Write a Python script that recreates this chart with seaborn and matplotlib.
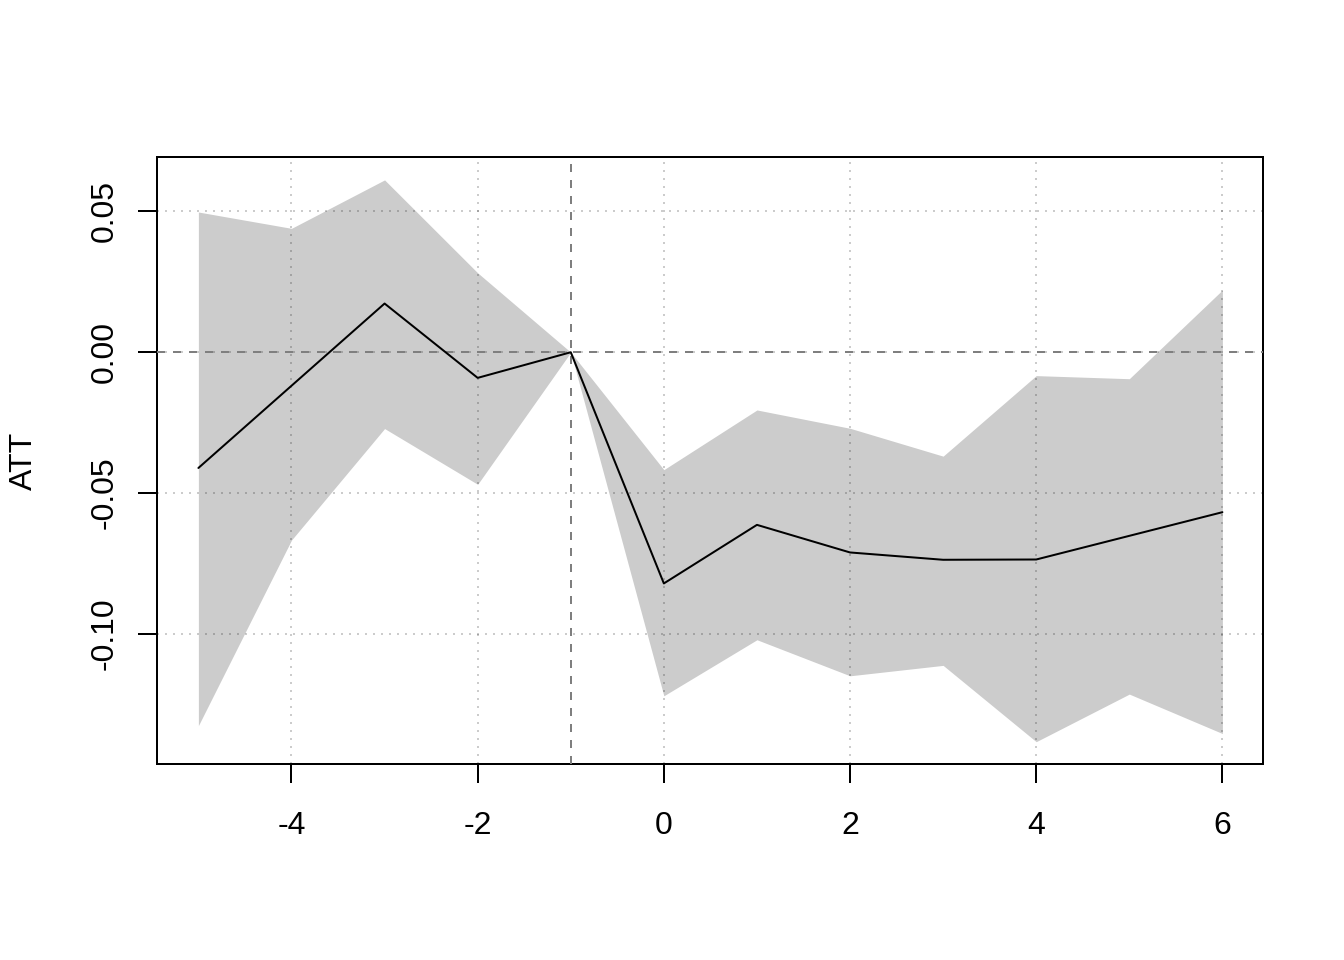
import numpy as np
import pandas as pd
import matplotlib
matplotlib.use("Agg")
import matplotlib.pyplot as plt
import seaborn as sns

# event time and ATT estimates
event_time = [-5, -4, -3, -2, -1, 0, 1, 2, 3, 4, 5, 6]
att = [-0.0411, -0.0119, 0.0173, -0.0091, 0.0, -0.0821, -0.0613, -0.0711, -0.0737, -0.0736, -0.0652, -0.0568]
ci_upper = [0.0498, 0.0440, 0.0612, 0.0282, 0.0, -0.0417, -0.0205, -0.0270, -0.0369, -0.0083, -0.0094, 0.0221]
ci_lower = [-0.1326, -0.0667, -0.0271, -0.0469, 0.0, -0.1220, -0.1021, -0.1149, -0.1112, -0.1383, -0.1214, -0.1354]

x_ticks = [-4, -2, 0, 2, 4, 6]
y_ticks = [-0.10, -0.05, 0.00, 0.05]
y_tick_labels = ["-0.10", "-0.05", "0.00", "0.05"]
ref_x = -1
ref_y = 0

df = pd.DataFrame({"time": event_time, "att": att, "lo": ci_lower, "hi": ci_upper})

sns.set_style("white")
plt.rcParams["font.family"] = ["Liberation Sans", "DejaVu Sans"]
plt.rcParams["axes.unicode_minus"] = False
plt.rcParams["text.color"] = "black"
plt.rcParams["axes.labelcolor"] = "black"

fig = plt.figure(figsize=(7, 5), dpi=192)
ax = fig.add_axes([0.82 / 7, 1.02 / 5, 1 - 1.24 / 7, 1 - 1.84 / 5])

# confidence band
ax.fill_between(df["time"], df["lo"], df["hi"], color="#cccccc", linewidth=0, zorder=1)

# grid (dotted) at the labelled ticks
for xv in x_ticks:
    ax.axvline(xv, color="black", alpha=0.2, lw=0.75, linestyle=(0, (1, 3)), zorder=2)
for yv in y_ticks:
    ax.axhline(yv, color="black", alpha=0.2, lw=0.75, linestyle=(0, (1, 3)), zorder=2)

# reference lines
ax.axvline(ref_x, color="#7f7f7f", lw=0.75, linestyle=(0, (4, 4)), zorder=3)
ax.axhline(ref_y, color="#7f7f7f", lw=0.75, linestyle=(0, (4, 4)), zorder=3)

# point estimates
sns.lineplot(data=df, x="time", y="att", color="black", linewidth=0.75, ax=ax, zorder=4)

# R-style limits (4% extension)
xr = max(event_time) - min(event_time)
ax.set_xlim(min(event_time) - 0.04 * xr, max(event_time) + 0.04 * xr)
ylo, yhi = min(ci_lower), max(ci_upper)
yr = yhi - ylo
ax.set_ylim(ylo - 0.04 * yr, yhi + 0.04 * yr)

ax.set_xticks(x_ticks)
ax.set_xticklabels([str(v) for v in x_ticks])
ax.set_yticks(y_ticks)
ax.set_yticklabels(y_tick_labels, rotation=90, va="center")

ax.tick_params(axis="both", direction="out", length=7.2, width=0.75, labelsize=12,
               colors="black", labelcolor="black")
ax.tick_params(axis="x", pad=10.5, bottom=True)
ax.tick_params(axis="y", pad=7, left=True)

for s in ax.spines.values():
    s.set_visible(True)
    s.set_color("black")
    s.set_linewidth(0.75)

ax.set_xlabel("")
ax.set_ylabel("ATT", fontsize=12, color="black")
ax.yaxis.set_label_coords((23 - 157) / (1263 - 157), 0.5)
ax.yaxis.label.set_va("center")

fig.savefig("out.png", dpi=192)
plt.close()
